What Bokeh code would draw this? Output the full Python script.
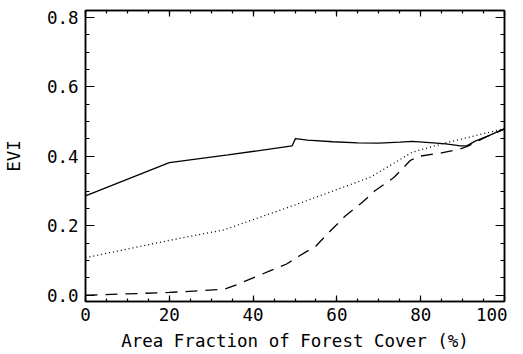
from bokeh.plotting import figure
from bokeh.models import LinearAxis, Range1d, SingleIntervalTicker, NumeralTickFormatter, CustomJSTickFormatter
from bokeh.embed import file_html
from bokeh.resources import INLINE

# Data
solid_x = [0, 20, 34, 49.3, 50.1, 53, 59, 65, 70, 75, 78, 83, 86, 89.5, 91, 93, 96, 100]
solid_y = [0.286, 0.382, 0.404, 0.430, 0.451, 0.447, 0.442, 0.439, 0.438, 0.441, 0.443, 0.439, 0.436, 0.430, 0.430, 0.444, 0.458, 0.480]

dotted_x = [0, 20, 33, 50, 68, 78, 86, 100]
dotted_y = [0.108, 0.158, 0.188, 0.260, 0.340, 0.412, 0.439, 0.480]

dashed_x = [0, 20, 33, 36, 40, 44, 48, 51, 55, 58, 62, 66, 69, 73.6, 77.5, 79.5, 85, 89, 91, 96, 100]
dashed_y = [0.0, 0.008, 0.017, 0.030, 0.050, 0.070, 0.090, 0.113, 0.142, 0.180, 0.228, 0.267, 0.300, 0.339, 0.388, 0.400, 0.410, 0.420, 0.428, 0.458, 0.478]

x_label = "Area Fraction of Forest Cover (%)"
y_label = "EVI"

FONT = "DejaVu Sans Mono"
FS = "17.5px"

p = figure(frame_width=419, frame_height=291, output_backend="svg", toolbar_location=None,
           x_range=Range1d(0, 100), y_range=Range1d(-0.018, 0.82),
           min_border_left=85, min_border_right=3, min_border_top=10, min_border_bottom=44,
           x_axis_label=x_label, y_axis_label=y_label)
p.xgrid.visible = False
p.ygrid.visible = False
p.outline_line_color = "black"
p.outline_line_width = 1.5
p.background_fill_color = "white"
p.border_fill_color = "white"

xt = SingleIntervalTicker(interval=20, num_minor_ticks=4)
yt = SingleIntervalTicker(interval=0.2, num_minor_ticks=4)

def style(ax, ticker, major, minor, labels=True):
    ax.ticker = ticker
    ax.axis_line_color = "black"
    ax.axis_line_width = 1.5
    ax.major_tick_in = major
    ax.major_tick_out = 0
    ax.minor_tick_in = minor
    ax.minor_tick_out = 0
    ax.major_tick_line_color = "black"
    ax.minor_tick_line_color = "black"
    ax.major_tick_line_width = 1.2
    ax.minor_tick_line_width = 1.2
    if labels:
        ax.major_label_text_font = FONT
        ax.major_label_text_font_size = FS
        ax.major_label_text_color = "black"
        ax.axis_label_text_font = FONT
        ax.axis_label_text_font_size = FS
        ax.axis_label_text_font_style = "normal"
        ax.axis_label_text_color = "black"
    else:
        ax.formatter = CustomJSTickFormatter(code="return '';")
        ax.major_label_standoff = 0

style(p.xaxis[0], xt, 6, 3)
style(p.yaxis[0], yt, 9, 4)
p.xaxis[0].major_label_standoff = 6
p.xaxis[0].axis_label_standoff = 7
p.yaxis[0].major_label_standoff = 7
p.yaxis[0].axis_label_standoff = 20
p.yaxis[0].formatter = NumeralTickFormatter(format="0.0")

top = LinearAxis()
style(top, SingleIntervalTicker(interval=20, num_minor_ticks=4), 6, 3, labels=False)
p.add_layout(top, "above")
right = LinearAxis()
style(right, SingleIntervalTicker(interval=0.2, num_minor_ticks=4), 9, 4, labels=False)
p.add_layout(right, "right")

p.line(solid_x, solid_y, line_color="black", line_width=1.3)
p.line(dotted_x, dotted_y, line_color="black", line_width=1.3, line_dash="1 3")
p.line(dashed_x, dashed_y, line_color="black", line_width=1.3, line_dash="12 8")

open("out.html", "w").write(file_html(p, INLINE))
